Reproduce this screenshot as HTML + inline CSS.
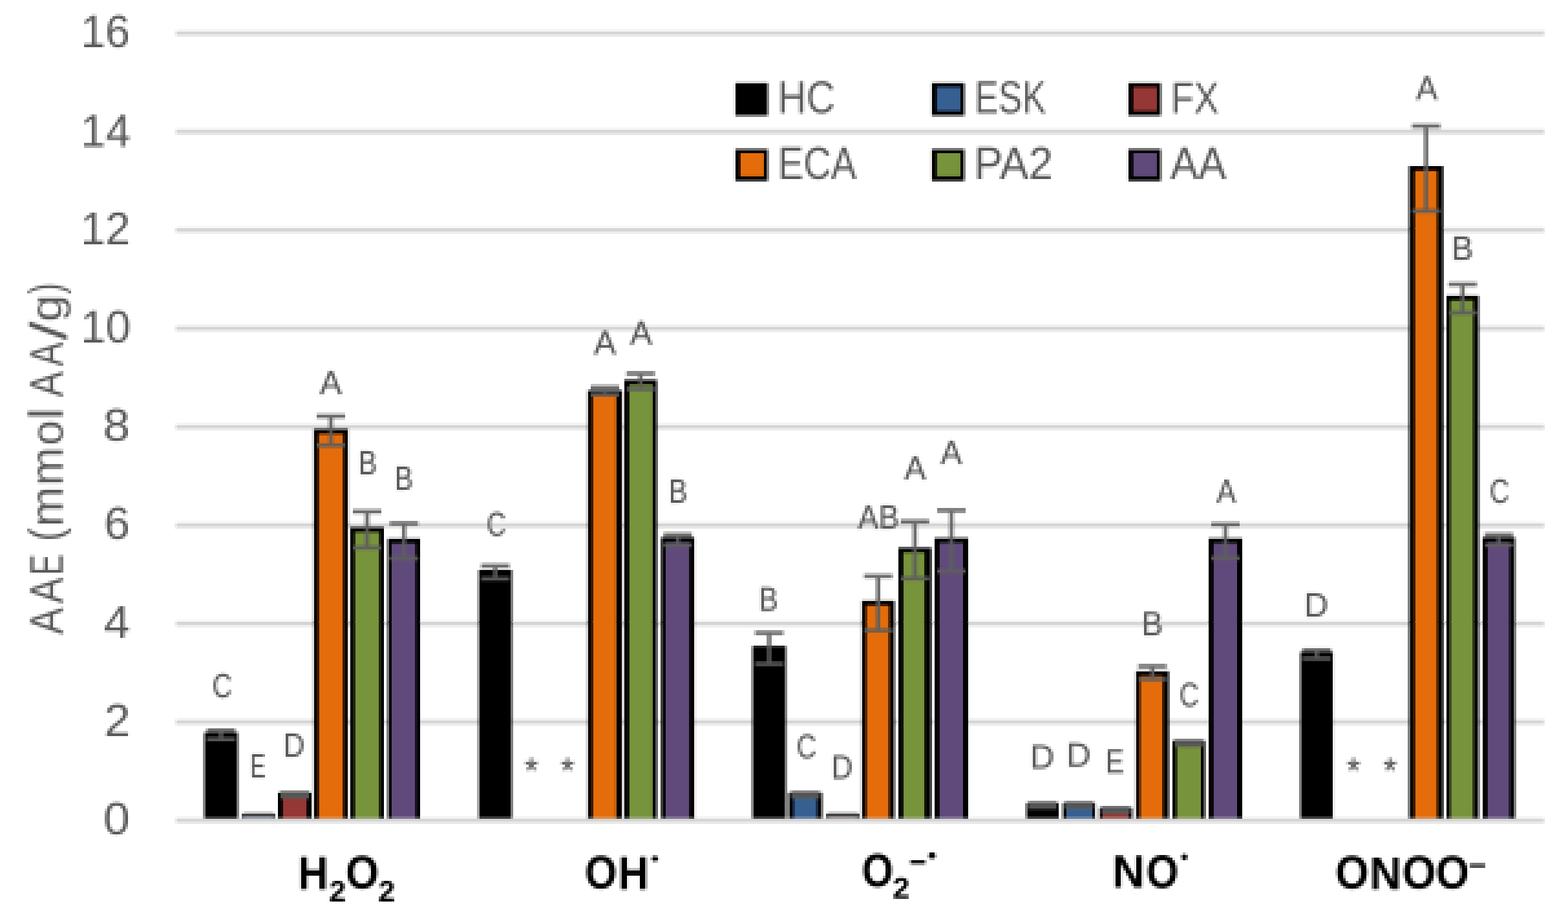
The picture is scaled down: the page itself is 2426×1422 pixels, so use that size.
<!DOCTYPE html>
<html lang="en"><head><meta charset="utf-8"><title>AAE chart</title>
<style>
html,body{margin:0;padding:0;background:#fff;}
body{width:2426px;height:1422px;overflow:hidden;}
svg{display:block;}
text{font-family:"Liberation Sans",sans-serif;}
</style></head><body>
<svg width="2426" height="1422" viewBox="0 0 2426 1422">
<defs><filter id="lowres" x="0" y="0" width="2426" height="1422" filterUnits="userSpaceOnUse" color-interpolation-filters="sRGB">
<feConvolveMatrix in="SourceGraphic" order="4" kernelMatrix="1 1 1 1 1 1 1 1 1 1 1 1 1 1 1 1" divisor="16" targetX="1" targetY="1" edgeMode="duplicate" preserveAlpha="true" result="b"/>
<feFlood x="3" y="2" width="1" height="1" flood-color="#000" result="p1"/>
<feOffset in="p1" dx="0" dy="0" x="0" y="0" width="4" height="4" result="c1"/>
<feTile in="c1" x="0" y="0" width="2426" height="353" result="g1"/>
<feFlood x="3" y="3" width="1" height="1" flood-color="#000" result="p2"/>
<feOffset in="p2" dx="0" dy="0" x="0" y="0" width="4" height="4" result="c2"/>
<feTile in="c2" x="0" y="353" width="2426" height="609" result="g2"/>
<feFlood x="3" y="0" width="1" height="1" flood-color="#000" result="p3"/>
<feOffset in="p3" dx="0" dy="0" x="0" y="0" width="4" height="4" result="c3"/>
<feTile in="c3" x="0" y="962" width="2426" height="460" result="g3"/>
<feMerge result="grid"><feMergeNode in="g1"/><feMergeNode in="g2"/><feMergeNode in="g3"/></feMerge>
<feComposite in="b" in2="grid" operator="in" result="s"/>
<feMorphology in="s" operator="dilate" radius="1" result="d"/>
<feOffset in="d" dx="1" dy="0" result="d1"/>
<feMerge result="m1"><feMergeNode in="d1"/><feMergeNode in="d"/></feMerge>
<feOffset in="m1" dx="0" dy="1" result="d2"/>
<feMerge result="m2"><feMergeNode in="d2"/><feMergeNode in="m1"/></feMerge>
<feMerge result="m3"><feMergeNode in="b"/><feMergeNode in="m2"/></feMerge>
<feGaussianBlur in="m3" stdDeviation="0.45"/>
</filter></defs>
<g id="chart">
<rect x="-20" y="-20" width="2466" height="1462" fill="#fff"/>
<g class="grid">
<rect x="272.0" y="47.90" width="2117.0" height="7.2" fill="#d5d5d5"/>
<rect x="272.0" y="200.15" width="2117.0" height="7.2" fill="#d5d5d5"/>
<rect x="272.0" y="352.40" width="2117.0" height="7.2" fill="#d5d5d5"/>
<rect x="272.0" y="504.65" width="2117.0" height="7.2" fill="#d5d5d5"/>
<rect x="272.0" y="656.90" width="2117.0" height="7.2" fill="#d5d5d5"/>
<rect x="272.0" y="809.15" width="2117.0" height="7.2" fill="#d5d5d5"/>
<rect x="272.0" y="961.40" width="2117.0" height="7.2" fill="#d5d5d5"/>
<rect x="272.0" y="1113.65" width="2117.0" height="7.2" fill="#d5d5d5"/>
<rect x="272.0" y="1265.90" width="2117.0" height="7.2" fill="#d5d5d5"/>
</g>
<g class="ticks">
<text transform="translate(124.89 72.75) scale(0.9825 1)" font-size="69.77" fill="#595959">16</text>
<text transform="translate(124.81 226.60) scale(0.9978 1)" font-size="69.77" fill="#595959">14</text>
<text transform="translate(124.86 378.35) scale(0.9885 1)" font-size="69.77" fill="#595959">12</text>
<text transform="translate(124.79 530.10) scale(1.0006 1)" font-size="69.77" fill="#595959">10</text>
<text transform="translate(159.57 681.90) scale(1.0765 1)" font-size="69.77" fill="#595959">8</text>
<text transform="translate(161.12 833.65) scale(1.0354 1)" font-size="69.77" fill="#595959">6</text>
<text transform="translate(160.62 987.10) scale(1.0494 1)" font-size="69.77" fill="#595959">4</text>
<text transform="translate(161.15 1139.00) scale(1.0467 1)" font-size="69.77" fill="#595959">2</text>
<text transform="translate(159.92 1290.55) scale(1.0585 1)" font-size="69.77" fill="#595959">0</text>
</g>
<g><title>AAE (mmol AA/g)</title><text class="ytitle" transform="translate(0 982.3) rotate(-90)" fill="#595959"><tspan x="0.48" y="96.80" font-size="72.82" textLength="41.65" lengthAdjust="spacingAndGlyphs">A</tspan><tspan x="48.58" y="96.80" font-size="72.82" textLength="40.24" lengthAdjust="spacingAndGlyphs">A</tspan><tspan x="92.34" y="96.80" font-size="72.82" textLength="32.24" lengthAdjust="spacingAndGlyphs">E</tspan> <tspan x="144.67" y="94.73" font-size="71.35" textLength="21.11" lengthAdjust="spacingAndGlyphs">(</tspan><tspan x="166.95" y="97.20" font-size="71.56" textLength="62.51" lengthAdjust="spacingAndGlyphs">m</tspan><tspan x="230.88" y="97.20" font-size="71.56" textLength="59.54" lengthAdjust="spacingAndGlyphs">m</tspan><tspan x="292.96" y="96.50" font-size="70.26" textLength="38.88" lengthAdjust="spacingAndGlyphs">o</tspan><tspan x="333.12" y="96.80" font-size="74.21" textLength="18.18" lengthAdjust="spacingAndGlyphs">l</tspan> <tspan x="367.98" y="96.80" font-size="72.82" textLength="39.54" lengthAdjust="spacingAndGlyphs">A</tspan><tspan x="415.79" y="96.80" font-size="72.82" textLength="37.02" lengthAdjust="spacingAndGlyphs">A</tspan><tspan x="455.90" y="102.70" font-size="80.27" textLength="29.48" lengthAdjust="spacingAndGlyphs">/</tspan><tspan x="484.56" y="95.32" font-size="68.19" textLength="41.53" lengthAdjust="spacingAndGlyphs">g</tspan><tspan x="527.60" y="94.73" font-size="71.35" textLength="16.84" lengthAdjust="spacingAndGlyphs">)</tspan></text></g>
<g class="bars">
<rect x="316.0" y="1133.3" width="52.0" height="133.7" fill="#000"/>
<rect x="374.0" y="1258.6" width="52.0" height="4.4" fill="#454545"/>
<rect x="374.0" y="1263.0" width="52.0" height="4.0" fill="#5a5a5a"/>
<rect x="379.0" y="1263.0" width="42.0" height="4.0" fill="#7a8493"/>
<rect x="430.0" y="1226.3" width="52.0" height="40.7" fill="#000"/>
<rect x="437.5" y="1233.7" width="37.0" height="33.3" fill="#953735"/>
<rect x="485.5" y="664.0" width="52.9" height="603.0" fill="#000"/>
<rect x="493.0" y="671.4" width="38.0" height="595.6" fill="#E46C0A"/>
<rect x="542.0" y="816.0" width="52.0" height="451.0" fill="#000"/>
<rect x="549.0" y="823.4" width="38.0" height="443.6" fill="#77933C"/>
<rect x="600.0" y="833.4" width="50.0" height="433.6" fill="#000"/>
<rect x="606.0" y="840.8" width="37.0" height="426.2" fill="#604A7B"/>
<rect x="740.6" y="881.8" width="51.4" height="385.2" fill="#000"/>
<rect x="909.4" y="604.0" width="53.2" height="663.0" fill="#000"/>
<rect x="917.0" y="611.4" width="36.5" height="655.6" fill="#E46C0A"/>
<rect x="966.0" y="587.6" width="50.5" height="679.4" fill="#000"/>
<rect x="973.5" y="595.0" width="36.3" height="672.0" fill="#77933C"/>
<rect x="1023.0" y="831.5" width="51.3" height="435.5" fill="#000"/>
<rect x="1029.8" y="838.9" width="36.7" height="428.1" fill="#604A7B"/>
<rect x="1164.2" y="999.6" width="51.8" height="267.4" fill="#000"/>
<rect x="1220.0" y="1226.3" width="52.0" height="40.7" fill="#000"/>
<rect x="1228.0" y="1233.7" width="36.0" height="33.3" fill="#376092"/>
<rect x="1278.0" y="1258.6" width="52.0" height="4.4" fill="#454545"/>
<rect x="1278.0" y="1263.0" width="52.0" height="4.0" fill="#5a5a5a"/>
<rect x="1283.0" y="1263.0" width="42.0" height="4.0" fill="#888080"/>
<rect x="1333.5" y="929.5" width="50.5" height="337.5" fill="#000"/>
<rect x="1340.5" y="936.9" width="35.0" height="330.1" fill="#E46C0A"/>
<rect x="1390.0" y="847.4" width="51.0" height="419.6" fill="#000"/>
<rect x="1397.5" y="854.8" width="33.0" height="412.2" fill="#77933C"/>
<rect x="1446.0" y="832.5" width="52.0" height="434.5" fill="#000"/>
<rect x="1453.5" y="839.9" width="36.5" height="427.1" fill="#604A7B"/>
<rect x="1588.0" y="1242.3" width="50.0" height="24.7" fill="#000"/>
<rect x="1644.4" y="1242.3" width="50.1" height="24.7" fill="#000"/>
<rect x="1650.0" y="1249.7" width="40.0" height="17.3" fill="#376092"/>
<rect x="1701.0" y="1249.8" width="50.8" height="17.2" fill="#000"/>
<rect x="1706.0" y="1257.2" width="40.0" height="9.8" fill="#953735"/>
<rect x="1757.5" y="1038.5" width="51.0" height="228.5" fill="#000"/>
<rect x="1764.0" y="1045.9" width="35.0" height="221.1" fill="#E46C0A"/>
<rect x="1814.0" y="1146.0" width="50.5" height="121.0" fill="#000"/>
<rect x="1820.5" y="1153.4" width="37.5" height="113.6" fill="#77933C"/>
<rect x="1870.0" y="833.0" width="52.0" height="434.0" fill="#000"/>
<rect x="1877.5" y="840.4" width="36.5" height="426.6" fill="#604A7B"/>
<rect x="2012.0" y="1008.8" width="50.3" height="258.2" fill="#000"/>
<rect x="2180.0" y="256.9" width="53.0" height="1010.1" fill="#000"/>
<rect x="2189.0" y="264.3" width="34.5" height="1002.7" fill="#E46C0A"/>
<rect x="2238.0" y="457.5" width="50.0" height="809.5" fill="#000"/>
<rect x="2244.0" y="464.9" width="35.5" height="802.1" fill="#77933C"/>
<rect x="2294.0" y="831.5" width="50.0" height="435.5" fill="#000"/>
<rect x="2301.5" y="838.9" width="34.0" height="428.1" fill="#604A7B"/>
</g>
<rect x="272.0" y="1265.90" width="2117.0" height="7.2" fill="#d5d5d5"/>
<g class="err" stroke="#5e5e5e" stroke-width="6.5" fill="none" opacity="0.9">
<path d="M320.0 1130.3 H364.0 M320.0 1143.7 H364.0 M342.0 1130.3 V1143.7"/>
<path d="M378.0 1257.6 H422.0" stroke-width="2" stroke="#b0b0b0"/>
<path d="M434.0 1227.0 H478.0 M434.0 1233.0 H478.0 M456.0 1227.0 V1233.0"/>
<path d="M489.9 644.0 H534.0 M489.9 689.0 H534.0 M511.9 644.0 V689.0"/>
<path d="M546.0 791.5 H590.0 M546.0 847.5 H590.0 M568.0 791.5 V847.5"/>
<path d="M603.0 810.0 H647.0 M603.0 864.0 H647.0 M625.0 810.0 V864.0"/>
<path d="M744.3 875.5 H788.3 M744.3 895.5 H788.3 M766.3 875.5 V895.5"/>
<path d="M914.0 599.5 H958.0 M914.0 610.5 H958.0 M936.0 599.5 V610.5"/>
<path d="M969.2 578.0 H1013.2 M969.2 602.0 H1013.2 M991.2 578.0 V602.0"/>
<path d="M1026.7 827.5 H1070.7 M1026.7 843.5 H1070.7 M1048.7 827.5 V843.5"/>
<path d="M1168.1 979.3 H1212.1 M1168.1 1027.3 H1212.1 M1190.1 979.3 V1027.3"/>
<path d="M1224.0 1227.0 H1268.0 M1224.0 1233.0 H1268.0 M1246.0 1227.0 V1233.0"/>
<path d="M1282.0 1257.6 H1326.0" stroke-width="2" stroke="#b0b0b0"/>
<path d="M1336.8 891.5 H1380.8 M1336.8 975.5 H1380.8 M1358.8 891.5 V975.5"/>
<path d="M1393.5 807.0 H1437.5 M1393.5 895.0 H1437.5 M1415.5 807.0 V895.0"/>
<path d="M1450.0 789.7 H1494.0 M1450.0 883.7 H1494.0 M1472.0 789.7 V883.7"/>
<path d="M1591.0 1243.0 H1635.0 M1591.0 1249.0 H1635.0 M1613.0 1243.0 V1249.0"/>
<path d="M1647.5 1243.0 H1691.5 M1647.5 1249.0 H1691.5 M1669.5 1243.0 V1249.0"/>
<path d="M1704.4 1250.5 H1748.4 M1704.4 1256.5 H1748.4 M1726.4 1250.5 V1256.5"/>
<path d="M1761.0 1031.0 H1805.0 M1761.0 1051.0 H1805.0 M1783.0 1031.0 V1051.0"/>
<path d="M1817.2 1147.0 H1861.2 M1817.2 1153.0 H1861.2 M1839.2 1147.0 V1153.0"/>
<path d="M1874.0 811.5 H1918.0 M1874.0 863.5 H1918.0 M1896.0 811.5 V863.5"/>
<path d="M2015.2 1006.0 H2059.2 M2015.2 1019.0 H2059.2 M2037.2 1006.0 V1019.0"/>
<path d="M2184.5 195.0 H2228.5 M2184.5 326.4 H2228.5 M2206.5 195.0 V326.4"/>
<path d="M2241.0 440.0 H2285.0 M2241.0 484.0 H2285.0 M2263.0 440.0 V484.0"/>
<path d="M2297.0 827.5 H2341.0 M2297.0 843.5 H2341.0 M2319.0 827.5 V843.5"/>
</g>
<g class="dl">
<text transform="translate(328.44 1079.00) scale(0.8091 1)" font-size="52.33" fill="#595959" stroke="#595959" stroke-width="0.5">C</text>
<text transform="translate(387.06 1203.00) scale(0.6841 1)" font-size="52.33" fill="#595959" stroke="#595959" stroke-width="0.5">E</text>
<text transform="translate(438.23 1171.00) scale(0.8781 1)" font-size="52.33" fill="#595959" stroke="#595959" stroke-width="0.5">D</text>
<text transform="translate(494.70 610.00) scale(0.9801 1)" font-size="52.33" fill="#595959" stroke="#595959" stroke-width="0.5">A</text>
<text transform="translate(554.45 733.90) scale(0.8262 1)" font-size="52.33" fill="#595959" stroke="#595959" stroke-width="0.5">B</text>
<text transform="translate(610.47 758.00) scale(0.8226 1)" font-size="52.33" fill="#595959" stroke="#595959" stroke-width="0.5">B</text>
<text transform="translate(752.99 829.30) scale(0.7910 1)" font-size="52.33" fill="#595959" stroke="#595959" stroke-width="0.5">C</text>
<text transform="translate(918.70 548.20) scale(0.9916 1)" font-size="52.33" fill="#595959" stroke="#595959" stroke-width="0.5">A</text>
<text transform="translate(974.70 533.30) scale(0.9858 1)" font-size="52.33" fill="#595959" stroke="#595959" stroke-width="0.5">A</text>
<text transform="translate(1034.42 778.00) scale(0.8334 1)" font-size="52.33" fill="#595959" stroke="#595959" stroke-width="0.5">B</text>
<text transform="translate(1174.36 945.30) scale(0.8478 1)" font-size="52.33" fill="#595959" stroke="#595959" stroke-width="0.5">B</text>
<text transform="translate(1232.44 1173.00) scale(0.8091 1)" font-size="52.33" fill="#595959" stroke="#595959" stroke-width="0.5">C</text>
<text transform="translate(1286.23 1205.00) scale(0.8781 1)" font-size="52.33" fill="#595959" stroke="#595959" stroke-width="0.5">D</text>
<text transform="translate(1327.60 818.00) scale(0.9130 1)" font-size="52.33" fill="#595959" stroke="#595959" stroke-width="0.5">AB</text>
<text transform="translate(1399.30 742.00) scale(0.9599 1)" font-size="52.33" fill="#595959" stroke="#595959" stroke-width="0.5">A</text>
<text transform="translate(1455.30 718.00) scale(0.9570 1)" font-size="52.33" fill="#595959" stroke="#595959" stroke-width="0.5">A</text>
<text transform="translate(1593.73 1188.50) scale(0.9943 1)" font-size="52.33" fill="#595959" stroke="#595959" stroke-width="0.5">D</text>
<text transform="translate(1649.68 1186.10) scale(1.0072 1)" font-size="52.33" fill="#595959" stroke="#595959" stroke-width="0.5">D</text>
<text transform="translate(1710.49 1196.20) scale(0.8180 1)" font-size="52.33" fill="#595959" stroke="#595959" stroke-width="0.5">E</text>
<text transform="translate(1765.88 983.00) scale(0.9591 1)" font-size="52.33" fill="#595959" stroke="#595959" stroke-width="0.5">B</text>
<text transform="translate(1824.87 1092.90) scale(0.7971 1)" font-size="52.33" fill="#595959" stroke="#595959" stroke-width="0.5">C</text>
<text transform="translate(1882.21 778.00) scale(0.8676 1)" font-size="52.33" fill="#595959" stroke="#595959" stroke-width="0.5">A</text>
<text transform="translate(2017.75 954.00) scale(0.9911 1)" font-size="52.33" fill="#595959" stroke="#595959" stroke-width="0.5">D</text>
<text transform="translate(2190.90 154.40) scale(0.9570 1)" font-size="52.33" fill="#595959" stroke="#595959" stroke-width="0.5">A</text>
<text transform="translate(2245.84 402.00) scale(0.9699 1)" font-size="52.33" fill="#595959" stroke="#595959" stroke-width="0.5">B</text>
<text transform="translate(2304.75 778.00) scale(0.8061 1)" font-size="52.33" fill="#595959" stroke="#595959" stroke-width="0.5">C</text>
<text transform="translate(811.74 1210.83) scale(0.9832 1)" font-size="54.70" fill="#595959" stroke="#595959" stroke-width="0.6">*</text>
<text transform="translate(867.74 1210.83) scale(0.9832 1)" font-size="54.70" fill="#595959" stroke="#595959" stroke-width="0.6">*</text>
<text transform="translate(2083.74 1210.83) scale(0.9832 1)" font-size="54.70" fill="#595959" stroke="#595959" stroke-width="0.6">*</text>
<text transform="translate(2140.14 1210.83) scale(0.9832 1)" font-size="54.70" fill="#595959" stroke="#595959" stroke-width="0.6">*</text>
</g>
<g class="legend">
<rect x="1137.7" y="128.4" width="50.3" height="50.6" fill="#000"/>
<text transform="translate(1203.58 175.10) scale(0.8806 1)" font-size="69.48" fill="#595959">HC</text>
<rect x="1441.7" y="128.4" width="50.3" height="50.6" fill="#000"/>
<rect x="1449.3" y="134.6" width="36.6" height="37.2" fill="#376092"/>
<text transform="translate(1508.08 175.10) scale(0.7940 1)" font-size="69.48" fill="#595959">ESK</text>
<rect x="1745.7" y="128.4" width="50.3" height="50.6" fill="#000"/>
<rect x="1753.3" y="134.6" width="36.6" height="37.2" fill="#953735"/>
<text transform="translate(1811.84 175.10) scale(0.8354 1)" font-size="69.48" fill="#595959">FX</text>
<rect x="1137.7" y="230.8" width="50.3" height="49.2" fill="#000"/>
<rect x="1145.3" y="237.0" width="36.6" height="35.8" fill="#E46C0A"/>
<text transform="translate(1203.75 276.60) scale(0.8510 1)" font-size="69.48" fill="#595959">ECA</text>
<rect x="1441.7" y="230.8" width="50.3" height="49.2" fill="#000"/>
<rect x="1449.3" y="237.0" width="36.6" height="35.8" fill="#77933C"/>
<text transform="translate(1507.10 276.60) scale(0.9658 1)" font-size="69.48" fill="#595959">PA2</text>
<rect x="1745.7" y="230.8" width="50.3" height="49.2" fill="#000"/>
<rect x="1753.3" y="237.0" width="36.6" height="35.8" fill="#604A7B"/>
<text transform="translate(1810.67 276.60) scale(0.9361 1)" font-size="69.48" fill="#595959">AA</text>
</g>
<g class="cats">
<g><title>H2O2</title><text font-weight="bold" fill="#000000"><tspan x="461.16" y="1375.50" font-size="71.37" textLength="46.79" lengthAdjust="spacingAndGlyphs">H</tspan><tspan x="509.36" y="1394.50" font-size="46.56" textLength="26.02" lengthAdjust="spacingAndGlyphs">2</tspan><tspan x="534.68" y="1375.48" font-size="71.61" textLength="51.59" lengthAdjust="spacingAndGlyphs">O</tspan><tspan x="585.16" y="1394.50" font-size="46.56" textLength="26.02" lengthAdjust="spacingAndGlyphs">2</tspan></text></g>
<g><title>OH•</title><text font-weight="bold" fill="#000000"><tspan x="905.08" y="1375.48" font-size="71.61" textLength="49.69" lengthAdjust="spacingAndGlyphs">O</tspan><tspan x="956.52" y="1375.50" font-size="71.37" textLength="47.16" lengthAdjust="spacingAndGlyphs">H</tspan><tspan x="1007.14" y="1338.74" font-size="30.31" textLength="12.73" lengthAdjust="spacingAndGlyphs">•</tspan></text></g>
<g><title>O2−•</title><text font-weight="bold" fill="#000000"><tspan x="1333.43" y="1371.68" font-size="72.32" textLength="48.80" lengthAdjust="spacingAndGlyphs">O</tspan><tspan x="1381.16" y="1389.80" font-size="46.13" textLength="26.13" lengthAdjust="spacingAndGlyphs">2</tspan><tspan x="1406.63" y="1351.18" font-size="51.38" textLength="26.64" lengthAdjust="spacingAndGlyphs">−</tspan><tspan x="1435.15" y="1335.85" font-size="35.19" textLength="13.71" lengthAdjust="spacingAndGlyphs">•</tspan></text></g>
<g><title>NO•</title><text font-weight="bold" fill="#000000"><tspan x="1720.71" y="1373.30" font-size="71.08" textLength="50.60" lengthAdjust="spacingAndGlyphs">N</tspan><tspan x="1773.47" y="1373.68" font-size="72.03" textLength="49.92" lengthAdjust="spacingAndGlyphs">O</tspan><tspan x="1826.74" y="1337.23" font-size="32.40" textLength="11.63" lengthAdjust="spacingAndGlyphs">•</tspan></text></g>
<g><title>ONOO−</title><text font-weight="bold" fill="#000000"><tspan x="2065.96" y="1375.48" font-size="72.03" textLength="51.93" lengthAdjust="spacingAndGlyphs">O</tspan><tspan x="2119.33" y="1375.50" font-size="71.08" textLength="49.25" lengthAdjust="spacingAndGlyphs">N</tspan><tspan x="2169.44" y="1375.48" font-size="72.03" textLength="52.38" lengthAdjust="spacingAndGlyphs">O</tspan><tspan x="2221.26" y="1375.48" font-size="72.03" textLength="51.93" lengthAdjust="spacingAndGlyphs">O</tspan><tspan x="2272.28" y="1353.50" font-size="44.95" textLength="27.34" lengthAdjust="spacingAndGlyphs">−</tspan></text></g>
</g>
</g>
<use href="#chart" filter="url(#lowres)"/>
</svg>
</body></html>
